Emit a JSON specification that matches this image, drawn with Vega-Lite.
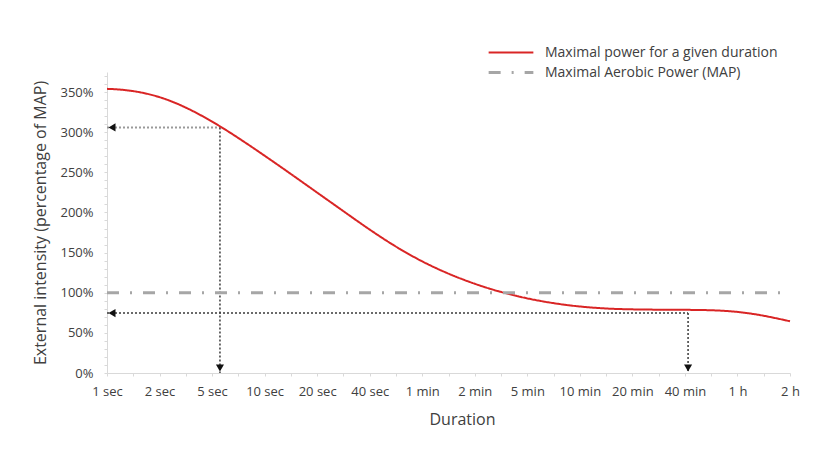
{
  "$schema": "https://vega.github.io/schema/vega-lite/v6.json",
  "width": 683,
  "height": 301,
  "autosize": {"type": "none"},
  "padding": {"left": 107, "top": 72, "right": 32, "bottom": 77},
  "background": "white",
  "config": {
    "view": {"stroke": null},
    "font": "Open Sans",
    "axis": {"grid": false, "domainColor": "#d9d9d9", "tickColor": "#d9d9d9", "labelColor": "#404040", "titleColor": "#404040", "titleFontWeight": "normal", "labelFontSize": 13, "titleFontSize": 15}
  },
  "datasets": {
    "lines": [
      {"series": "Maximal power for a given duration", "idx": 0, "value": 354},
      {"series": "Maximal power for a given duration", "idx": 0.25, "value": 353.4},
      {"series": "Maximal power for a given duration", "idx": 0.63, "value": 350.2},
      {"series": "Maximal power for a given duration", "idx": 1.01, "value": 344.0},
      {"series": "Maximal power for a given duration", "idx": 1.39, "value": 334.4},
      {"series": "Maximal power for a given duration", "idx": 1.77, "value": 322.0},
      {"series": "Maximal power for a given duration", "idx": 2.15, "value": 307.6},
      {"series": "Maximal power for a given duration", "idx": 2.53, "value": 291.6},
      {"series": "Maximal power for a given duration", "idx": 2.91, "value": 274.8},
      {"series": "Maximal power for a given duration", "idx": 3.29, "value": 257.6},
      {"series": "Maximal power for a given duration", "idx": 3.67, "value": 240.1},
      {"series": "Maximal power for a given duration", "idx": 4.05, "value": 222.4},
      {"series": "Maximal power for a given duration", "idx": 4.44, "value": 204.4},
      {"series": "Maximal power for a given duration", "idx": 4.82, "value": 186.7},
      {"series": "Maximal power for a given duration", "idx": 5.2, "value": 169.7},
      {"series": "Maximal power for a given duration", "idx": 5.58, "value": 154.0},
      {"series": "Maximal power for a given duration", "idx": 5.96, "value": 140.1},
      {"series": "Maximal power for a given duration", "idx": 6.34, "value": 128.1},
      {"series": "Maximal power for a given duration", "idx": 6.72, "value": 117.7},
      {"series": "Maximal power for a given duration", "idx": 7.1, "value": 108.7},
      {"series": "Maximal power for a given duration", "idx": 7.48, "value": 101.1},
      {"series": "Maximal power for a given duration", "idx": 7.86, "value": 94.8},
      {"series": "Maximal power for a given duration", "idx": 8.24, "value": 89.7},
      {"series": "Maximal power for a given duration", "idx": 8.62, "value": 85.7},
      {"series": "Maximal power for a given duration", "idx": 9.0, "value": 82.7},
      {"series": "Maximal power for a given duration", "idx": 9.38, "value": 80.7},
      {"series": "Maximal power for a given duration", "idx": 9.76, "value": 79.5},
      {"series": "Maximal power for a given duration", "idx": 10.34, "value": 78.9},
      {"series": "Maximal power for a given duration", "idx": 10.91, "value": 78.8},
      {"series": "Maximal power for a given duration", "idx": 11.48, "value": 78.4},
      {"series": "Maximal power for a given duration", "idx": 11.86, "value": 77.2},
      {"series": "Maximal power for a given duration", "idx": 12.24, "value": 74.4},
      {"series": "Maximal power for a given duration", "idx": 12.62, "value": 70.0},
      {"series": "Maximal power for a given duration", "idx": 13, "value": 64.4},
      {"series": "Maximal Aerobic Power (MAP)", "idx": 0, "value": 100},
      {"series": "Maximal Aerobic Power (MAP)", "idx": 13, "value": 100}
    ],
    "guidesLight": [
      {"g": "h1", "idx": 0, "value": 306},
      {"g": "h1", "idx": 2.15, "value": 306}
    ],
    "guidesDark": [
      {"g": "v1", "idx": 2.15, "value": 306},
      {"g": "v1", "idx": 2.15, "value": 0},
      {"g": "h2", "idx": 0, "value": 74.6},
      {"g": "h2", "idx": 11.06, "value": 74.6},
      {"g": "v2", "idx": 11.06, "value": 74.6},
      {"g": "v2", "idx": 11.06, "value": 0}
    ],
    "arrowsLeft": [
      {"idx": 0, "value": 306},
      {"idx": 0, "value": 74.6}
    ],
    "arrowsDown": [
      {"idx": 2.15, "value": 0},
      {"idx": 11.06, "value": 0}
    ]
  },
  "encoding": {
    "x": {
      "field": "idx", "type": "quantitative",
      "scale": {"domain": [0, 13], "nice": false, "zero": false},
      "axis": {
        "title": "Duration",
        "values": [0,0.5,1,1.5,2,2.5,3,3.5,4,4.5,5,5.5,6,6.5,7,7.5,8,8.5,9,9.5,10,10.5,11,11.5,12,12.5,13],
        "labelExpr": "datum.value % 1 == 0 ? ['1 sec','2 sec','5 sec','10 sec','20 sec','40 sec','1 min','2 min','5 min','10 min','20 min','40 min','1 h','2 h'][datum.value] : ''",
        "labelOverlap": false, "labelFlush": false, "labelBound": false,
        "tickSize": 3, "labelPadding": 9, "titlePadding": 13, "titleFontSize": 16, "titleX": 355, "titleAlign": "center"
      }
    },
    "y": {
      "field": "value", "type": "quantitative",
      "scale": {"domain": [0, 375], "nice": false},
      "axis": {
        "title": "External intensity (percentage of MAP)",
        "values": [0,10,20,30,40,50,60,70,80,90,100,110,120,130,140,150,160,170,180,190,200,210,220,230,240,250,260,270,280,290,300,310,320,330,340,350,360,370],
        "labelExpr": "datum.value % 50 == 0 ? datum.value + '%' : ''",
        "labelOverlap": false, "labelBound": false, "labelFlush": false,
        "tickSize": 3, "labelPadding": 11, "titlePadding": 11, "titleFontSize": 16
      }
    }
  },
  "layer": [
    {
      "data": {"name": "guidesLight"},
      "mark": {"type": "line", "color": "#9a9a9a", "strokeWidth": 2, "strokeDash": [2, 2]},
      "encoding": {"detail": {"field": "g"}}
    },
    {
      "data": {"name": "guidesDark"},
      "mark": {"type": "line", "color": "#3a3a3a", "strokeWidth": 1.5, "strokeDash": [2, 2]},
      "encoding": {"detail": {"field": "g"}}
    },
    {
      "data": {"name": "lines"},
      "mark": {"type": "line", "interpolate": "basis"},
      "encoding": {
        "color": {
          "field": "series", "type": "nominal",
          "scale": {"domain": ["Maximal power for a given duration", "Maximal Aerobic Power (MAP)"], "range": ["#d92525", "#a6a6a6"]},
          "legend": {
            "title": null, "orient": "none", "legendX": 380, "legendY": -28,
            "symbolType": "stroke", "symbolSize": 2000, "labelFontSize": 14, "labelColor": "#404040",
            "labelOffset": 10, "rowPadding": 3, "labelLimit": 400, "clipHeight": 17
          }
        },
        "strokeDash": {
          "field": "series", "type": "nominal",
          "scale": {"domain": ["Maximal power for a given duration", "Maximal Aerobic Power (MAP)"], "range": [[1, 0], [12, 11, 2, 11]]},
          "legend": {"title": null}
        },
        "strokeWidth": {
          "field": "series", "type": "nominal",
          "scale": {"domain": ["Maximal power for a given duration", "Maximal Aerobic Power (MAP)"], "range": [2, 3]},
          "legend": {"title": null}
        }
      }
    },
    {
      "data": {"name": "arrowsLeft"},
      "mark": {"type": "point", "shape": "triangle-left", "filled": true, "color": "#111111", "size": 65, "opacity": 1, "xOffset": 5}
    },
    {
      "data": {"name": "arrowsDown"},
      "mark": {"type": "point", "shape": "triangle-down", "filled": true, "color": "#111111", "size": 65, "opacity": 1, "yOffset": -5}
    }
  ]
}
